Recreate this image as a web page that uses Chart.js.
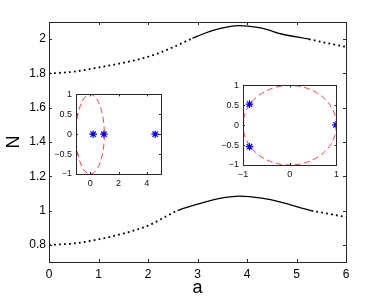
<!DOCTYPE html>
<html>
<head>
<meta charset="utf-8">
<script src="https://cdn.jsdelivr.net/npm/chart.js@4.4.1/dist/chart.umd.min.js"></script>
<style>
  body { margin: 0; background: #fff; }
  #wrap { position: relative; width: 382px; height: 299px; }
  #wrap canvas { position: absolute; }
</style>
</head>
<body>
<div id="wrap">
  <canvas id="mainChart" width="382" height="299" style="left:0;top:0"></canvas>
  <canvas id="insetLeft" width="116" height="108" style="left:52px;top:85px"></canvas>
  <canvas id="insetRight" width="125" height="108" style="left:218px;top:76px"></canvas>
</div>
<script>
// main curves
const upperA = [0, 0.5, 1, 1.5, 2, 2.5, 2.9, 3.3, 3.85, 4.3, 4.7, 5.25, 5.6, 6];
const upperN = [1.80, 1.81, 1.835, 1.862, 1.897, 1.952, 2.005, 2.05, 2.079, 2.064, 2.03, 2.0, 1.978, 1.955];
const lowerA = [0, 0.5, 1, 1.5, 2, 2.6, 3, 3.4, 3.85, 4.3, 4.7, 5.3, 5.6, 6];
const lowerN = [0.80, 0.808, 0.832, 0.866, 0.912, 1.0, 1.037, 1.068, 1.084, 1.072, 1.048, 1.0, 0.984, 0.962];
// part of each curve drawn solid (rest is dotted)
const upperSolid = [2.9, 5.25];
const lowerSolid = [2.6, 5.3];

const mainXTicks = [0, 1, 2, 3, 4, 5, 6];
const mainYTicks = [0.8, 1, 1.2, 1.4, 1.6, 1.8, 2];

// left inset
const leftStarX = [0.21, 0.97, 4.59];
const leftStarY = [0, 0, 0];
const leftXTicks = [0, 2, 4];
const leftYTicks = [-1, -0.5, 0, 0.5, 1];

// right inset
const rightStarX = [-0.86, -0.86, 0.99];
const rightStarY = [0.53, -0.54, 0.01];
const rightXTicks = [-1, 0, 1];
const rightYTicks = [-1, -0.5, 0, 0.5, 1];

// unit circle drawn in both insets
const circleCenter = [0, 0];
const circleRadius = 1;

const AXIS = '#262626';
const FONT = "'Liberation Sans', Arial, sans-serif";
const DOTS = [1.8, 3.2];

const toPts = (xs, ys) => xs.map((x, i) => ({ x: x, y: ys[i] }));
const fmt = v => String(v).replace('-', '\u2212');
const fixTicks = list => s => { s.ticks = list.map(v => ({ value: v })); };
const noGrid = { display: false, drawTicks: false };

// box round the axes with ticks pointing inward on all four sides
const boxTicks = {
    id: 'boxTicks',
    beforeDatasetsDraw(chart) {
        const a = chart.chartArea;
        chart.ctx.save();
        chart.ctx.fillStyle = '#fff';
        chart.ctx.fillRect(a.left, a.top, a.right - a.left, a.bottom - a.top);
        chart.ctx.restore();
    },
    afterDatasetsDraw(chart, args, opts) {
        const { ctx, chartArea: a, scales: { x, y } } = chart;
        const len = opts.len || 3;
        ctx.save();
        ctx.strokeStyle = AXIS;
        ctx.lineWidth = 1;
        ctx.beginPath();
        x.ticks.forEach(t => {
            const px = Math.round(x.getPixelForValue(t.value)) + 0.5;
            ctx.moveTo(px, a.bottom); ctx.lineTo(px, a.bottom - len);
            ctx.moveTo(px, a.top); ctx.lineTo(px, a.top + len);
        });
        y.ticks.forEach(t => {
            const py = Math.round(y.getPixelForValue(t.value)) + 0.5;
            ctx.moveTo(a.left, py); ctx.lineTo(a.left + len, py);
            ctx.moveTo(a.right, py); ctx.lineTo(a.right - len, py);
        });
        ctx.stroke();
        ctx.strokeRect(Math.round(a.left) + 0.5, Math.round(a.top) + 0.5,
            Math.round(a.right - a.left), Math.round(a.bottom - a.top));
        ctx.restore();
    }
};

// dashed red circle, placed through the chart's scales
const circlePlugin = {
    id: 'circle',
    beforeDatasetsDraw(chart) {
        const { ctx, chartArea: a, scales: { x, y } } = chart;
        const cx = x.getPixelForValue(circleCenter[0]);
        const cy = y.getPixelForValue(circleCenter[1]);
        const rx = Math.abs(x.getPixelForValue(circleCenter[0] + circleRadius) - cx);
        const ry = Math.abs(y.getPixelForValue(circleCenter[1] + circleRadius) - cy);
        ctx.save();
        ctx.beginPath();
        ctx.rect(a.left, a.top, a.right - a.left, a.bottom - a.top);
        ctx.clip();
        ctx.strokeStyle = 'rgba(255, 30, 30, 0.85)';
        ctx.lineWidth = 1;
        ctx.setLineDash([6, 3.5]);
        ctx.beginPath();
        ctx.ellipse(cx, cy, rx, ry, 0, 0, Math.PI * 2);
        ctx.stroke();
        ctx.restore();
    }
};

function curve(xs, ys, solid) {
    const dotted = c => {
        const m = (c.p0.parsed.x + c.p1.parsed.x) / 2;
        return m < solid[0] || m > solid[1];
    };
    return {
        data: toPts(xs, ys),
        borderColor: '#000',
        borderWidth: 1.6,
        pointRadius: 0,
        cubicInterpolationMode: 'monotone',
        segment: {
            borderDash: c => dotted(c) ? DOTS : undefined,
            borderWidth: c => dotted(c) ? 1.8 : 1.3
        }
    };
}

new Chart(document.getElementById('mainChart'), {
    type: 'line',
    data: { datasets: [curve(upperA, upperN, upperSolid), curve(lowerA, lowerN, lowerSolid)] },
    options: {
        responsive: false,
        animation: false,
        devicePixelRatio: 1,
        layout: { padding: { left: 0, right: 36, top: 22, bottom: 0 } },
        plugins: { legend: { display: false }, tooltip: { enabled: false }, boxTicks: { len: 3 } },
        scales: {
            x: {
                type: 'linear', min: 0, max: 6,
                afterBuildTicks: fixTicks(mainXTicks),
                afterFit: s => { s.height = 37; },
                grid: noGrid, border: { display: false },
                ticks: { color: '#000', padding: 5, maxRotation: 0, font: { family: FONT, size: 12 }, callback: fmt },
                title: { display: true, text: 'a', color: '#000', padding: 0, font: { family: FONT, size: 18 } }
            },
            y: {
                type: 'linear', min: 0.7, max: 2.1,
                afterBuildTicks: fixTicks(mainYTicks),
                afterFit: s => { s.width = 49; },
                grid: noGrid, border: { display: false },
                ticks: { color: '#000', padding: 3, font: { family: FONT, size: 12 }, callback: fmt },
                title: { display: true, text: 'N', color: '#000', padding: { top: 3, bottom: 0 }, font: { family: FONT, size: 18 } }
            }
        }
    },
    plugins: [boxTicks]
});

function inset(id, xs, ys, xr, xt, yt, pad, yWidth, xHeight) {
    new Chart(document.getElementById(id), {
        type: 'scatter',
        data: {
            datasets: [{
                data: toPts(xs, ys),
                pointStyle: 'star',
                pointRadius: 3.8,
                borderColor: '#0000ff',
                backgroundColor: '#0000ff',
                pointBorderWidth: 1.2
            }]
        },
        options: {
            responsive: false,
            animation: false,
            devicePixelRatio: 1,
            layout: { padding: pad },
            plugins: { legend: { display: false }, tooltip: { enabled: false }, boxTicks: { len: 2 } },
            scales: {
                x: {
                    type: 'linear', min: xr[0], max: xr[1],
                    afterBuildTicks: fixTicks(xt),
                    afterFit: s => { s.height = xHeight; },
                    grid: noGrid, border: { display: false },
                    ticks: { color: '#111', padding: 4, maxRotation: 0, font: { family: FONT, size: 9 }, callback: fmt }
                },
                y: {
                    type: 'linear', min: -1, max: 1,
                    afterBuildTicks: fixTicks(yt),
                    afterFit: s => { s.width = yWidth; },
                    grid: noGrid, border: { display: false },
                    ticks: { color: '#111', padding: 4, font: { family: FONT, size: 9 }, callback: fmt }
                }
            }
        },
        plugins: [boxTicks, circlePlugin]
    });
}

inset('insetLeft', leftStarX, leftStarY, [-1, 5], leftXTicks, leftYTicks,
    { left: 0, right: 7, top: 6, bottom: 0 }, 24, 19);
inset('insetRight', rightStarX, rightStarY, [-1, 1], rightXTicks, rightYTicks,
    { left: 0, right: 5, top: 6, bottom: 0 }, 25, 19);
</script>
</body>
</html>
